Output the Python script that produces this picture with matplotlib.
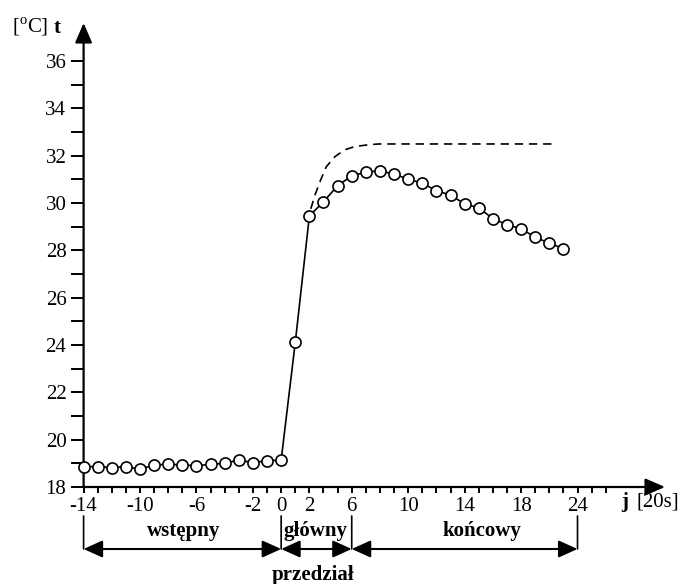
import matplotlib
matplotlib.use('Agg')
import matplotlib.pyplot as plt

plt.rcParams['font.family'] = ['Liberation Serif', 'DejaVu Serif']
plt.rcParams['mathtext.fontset'] = 'custom'
plt.rcParams['mathtext.rm'] = 'Liberation Serif'

# ---- data ----
j_initial = [-14, -13, -12, -11, -10, -9, -8, -7, -6, -5, -4, -3, -2, -1, 0]
t_initial = [18.86, 18.86, 18.82, 18.86, 18.75, 18.93, 18.96, 18.93, 18.90,
             18.96, 19.00, 19.14, 19.03, 19.11, 19.14]
j_main = [1, 2, 3, 4, 5, 6, 7, 8, 9, 10, 11, 12, 13, 14, 15, 16, 17, 18, 19, 20]
t_main = [24.11, 29.45, 30.05, 30.73, 31.14, 31.30, 31.36, 31.21, 31.01, 30.83,
          30.52, 30.33, 29.96, 29.79, 29.34, 29.08, 28.91, 28.55, 28.30, 28.07]
j_dash = [2.1, 2.4, 2.8, 3.2, 3.8, 4.5, 5.2, 6.1, 6.9, 19.4]
t_dash = [29.75, 30.34, 30.97, 31.53, 31.95, 32.24, 32.38, 32.45, 32.49, 32.49]

x_tick_pos = [-14, -10, -6, -2, 0, 2, 5, 9, 13, 17, 21]
x_tick_labels = ['-14', '-10', '-6', '-2', '0', '2', '6', '10', '14', '18', '24']
y_ticks = [18, 20, 22, 24, 26, 28, 30, 32, 34, 36]
interval_bounds = [-14, 0, 5, 21]
interval_names = ['wstępny', 'główny', 'końcowy']

W, H = 681, 584
fig = plt.figure(figsize=(W / 100, H / 100), dpi=100)

def fx(x):
    return x / W

def fy(y):
    return 1 - y / H

x0, x1 = -14, 27.2
y0, y1 = 18, 37.6
ax = fig.add_axes([83.6 / W, (H - 487) / H, (665 - 83.6) / W, (487 - 23) / H])
ax.set_xlim(x0, x1)
ax.set_ylim(y0, y1)
for s in ax.spines.values():
    s.set_visible(False)

# axes with arrows
arrow_kw = dict(arrowstyle='-|>,head_length=12,head_width=5.2', mutation_scale=1,
                lw=1.6, color='black', shrinkA=0, shrinkB=0)
ax.annotate('', xy=(x1, y0), xytext=(x0, y0), arrowprops=arrow_kw, annotation_clip=False)
ax.annotate('', xy=(x0, y1), xytext=(x0, y0), arrowprops=arrow_kw, annotation_clip=False)

# ticks
ax.set_xticks(x_tick_pos)
ax.set_xticklabels(x_tick_labels)
ax.set_xticks(list(range(-14, 24)), minor=True)
ax.set_yticks(y_ticks)
ax.set_yticklabels([str(v) for v in y_ticks])
ax.set_yticks(list(range(19, 37, 2)), minor=True)
ax.tick_params(axis='x', which='both', direction='out', length=4.5, width=1.4,
               pad=3, labelsize=15)
ax.tick_params(axis='y', which='both', direction='out', length=9.4, width=1.4,
               pad=3, labelsize=15)

# data
ax.plot(j_dash, t_dash, color='black', lw=1.2, ls=(0, (5, 3.5)), clip_on=False)
j_all = j_initial + j_main
t_all = t_initial + t_main
ax.plot(j_all, t_all, color='black', lw=1.2, marker='o', ms=8, mfc='white',
        mec='black', mew=1.2, clip_on=False, zorder=3)

# axis titles
fig.text(fx(12), fy(33), r'[$^{\rm o}$C]', fontsize=15, ha='left', va='baseline')
fig.text(fx(54), fy(33), 't', fontsize=15, fontweight='bold', ha='left', va='baseline')
fig.text(fx(621), fy(507), 'j', fontsize=15, fontweight='bold', ha='left', va='baseline')
fig.text(fx(637), fy(507), '[20s]', fontsize=15, ha='left', va='baseline')

# interval annotations
y_arrow = H - 549
y_top_bar = H - 516
for b in interval_bounds:
    ax.annotate('', xy=(b, y_top_bar), xytext=(b, y_arrow), xycoords=('data', 'figure pixels'),
                textcoords=('data', 'figure pixels'),
                arrowprops=dict(arrowstyle='-', lw=1.2, color='black', shrinkA=0, shrinkB=0),
                annotation_clip=False)
two_kw = dict(arrowstyle='<|-|>,head_length=11.5,head_width=5.2', mutation_scale=1,
              lw=1.5, color='black', shrinkA=0, shrinkB=0)
for a, b in zip(interval_bounds[:-1], interval_bounds[1:]):
    ax.annotate('', xy=(b, y_arrow), xytext=(a, y_arrow), xycoords=('data', 'figure pixels'),
                textcoords=('data', 'figure pixels'), arrowprops=two_kw,
                annotation_clip=False)

label_x = [184, 315, 482]
for name, lx in zip(interval_names, label_x):
    fig.text(fx(lx), fy(536), name, fontsize=15, fontweight='bold',
             ha='center', va='baseline')
fig.text(fx(313), fy(580), 'przedział', fontsize=15, fontweight='bold',
         ha='center', va='baseline')

fig.savefig('out.png', dpi=100)
